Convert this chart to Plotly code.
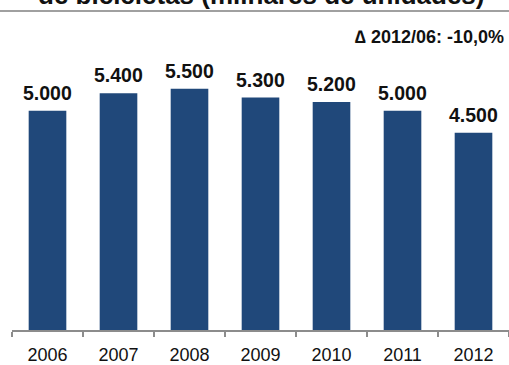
import plotly.graph_objects as go

years = ["2006", "2007", "2008", "2009", "2010", "2011", "2012"]
production = [5000, 5400, 5500, 5300, 5200, 5000, 4500]
value_labels = ["5.000", "5.400", "5.500", "5.300", "5.200", "5.000", "4.500"]
title_text = "de bicicletas (milhares de unidades)"
delta_text = "∆ 2012/06: -10,0%"

bar_color = "#20487A"
font_family = "Liberation Sans, Arial, sans-serif"

fig = go.Figure()
fig.add_trace(go.Bar(
    x=years, y=production,
    marker=dict(color=bar_color, line=dict(width=0)),
    width=0.53,
    hoverinfo="skip",
))

# value labels above each bar (category axes take the category index)
for i, (val, lab) in enumerate(zip(production, value_labels)):
    fig.add_annotation(
        x=i, y=val, xref="x", yref="y",
        text=f"<b>{lab}</b>", showarrow=False,
        yanchor="bottom", yshift=5,
        font=dict(family=font_family, size=19.5, color="#111111"),
    )

# title (top line cut by the frame) and separator rule
fig.add_annotation(
    x=0.5, y=1, xref="paper", yref="paper",
    text=f"<b>{title_text}</b>", showarrow=False,
    xanchor="center", yanchor="bottom", yshift=33,
    font=dict(family=font_family, size=26, color="#111111"),
)
fig.add_shape(
    type="line", xref="paper", yref="paper",
    x0=-0.03, x1=1.0, y0=1.1197, y1=1.1197,
    line=dict(color="#808080", width=1.5),
)

# change indicator
fig.add_annotation(
    x=1, y=1, xref="paper", yref="paper",
    text=f"<b>{delta_text}</b>", showarrow=False,
    xanchor="right", yanchor="bottom", xshift=-3, yshift=-4,
    font=dict(family=font_family, size=18, color="#111111"),
)

fig.update_layout(
    width=509, height=365,
    margin=dict(l=12, r=0, t=44.5, b=28, pad=0),
    paper_bgcolor="white", plot_bgcolor="white",
    showlegend=False,
    font=dict(family=font_family, color="#111111"),
    xaxis=dict(
        type="category", range=[-0.5, 6.5],
        showline=True, linecolor="#8C8C8C", linewidth=1.5,
        ticks="outside", tickson="boundaries", ticklen=5, tickcolor="#8C8C8C", tickwidth=1.5,
        tickfont=dict(family=font_family, size=18, color="#111111"),
        ticklabelstandoff=8,
        showgrid=False, zeroline=False,
    ),
    yaxis=dict(
        range=[0, 6500], visible=False, showgrid=False, zeroline=False,
    ),
)

fig.write_html("out.html")
